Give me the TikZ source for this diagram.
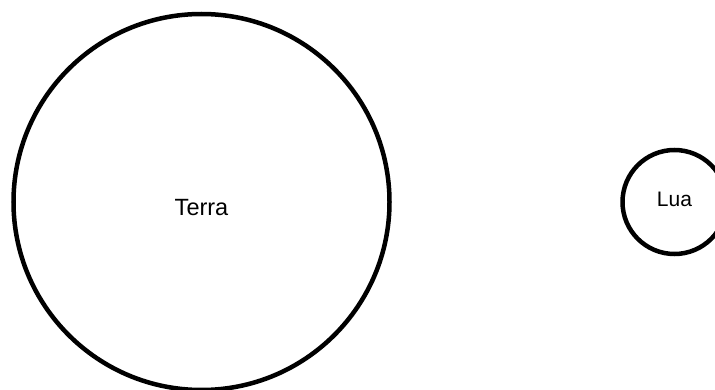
\documentclass[tikz,border=0pt]{standalone}
\usepackage{fontspec}
\setmainfont{Liberation Sans}
\usetikzlibrary{positioning}

\begin{document}
\begin{tikzpicture}[
    x=1pt, y=-1pt,
    body/.style={circle, draw, line width=4.5pt, inner sep=0pt, outer sep=0pt,
                 align=center}
]
\useasboundingbox (0,0) rectangle (715,390);
\node[body, minimum size=376pt, text height=27pt,
      font=\fontsize{23.5}{28}\selectfont] (terra) at (201.5,202) {Terra};
\node[body, minimum size=104pt, text depth=5pt,
      font=\fontsize{21}{25}\selectfont, right=233pt of terra] (lua) {Lua};
\end{tikzpicture}
\end{document}
